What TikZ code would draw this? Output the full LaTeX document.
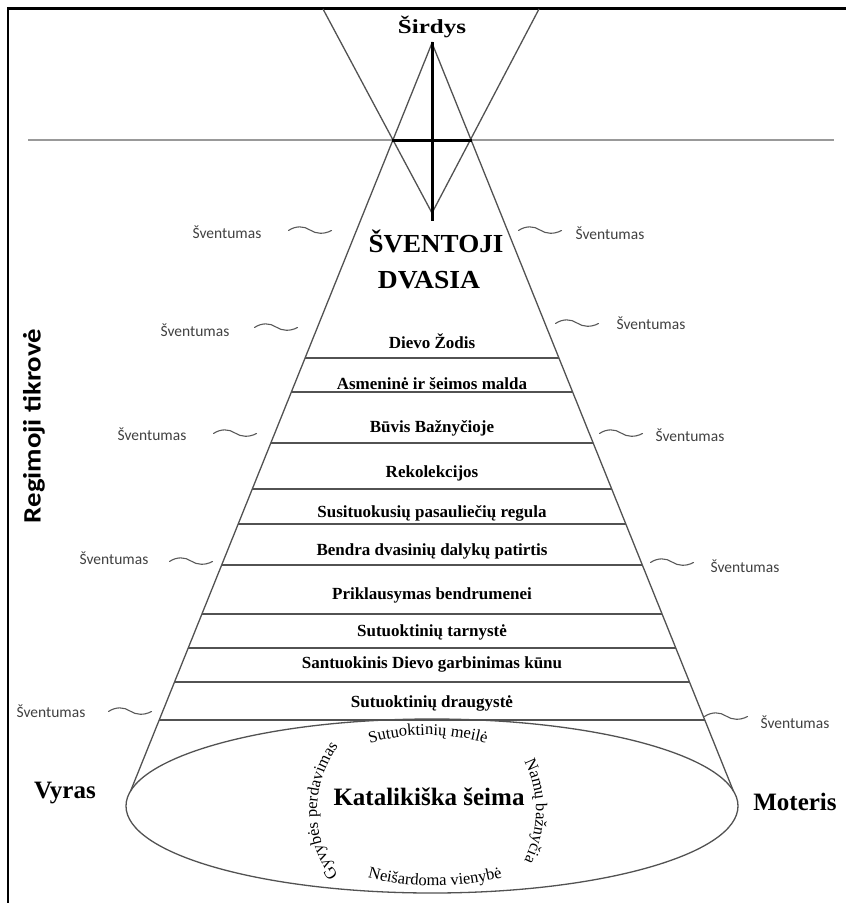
\documentclass[tikz,border=0pt]{standalone}
\usepackage{fontspec}
\setmainfont{Liberation Serif}
\newfontfamily\calfont{Carlito}
\usetikzlibrary{decorations.text}
\newcommand\ringfont{\fontsize{16.5}{19}\selectfont}
\begin{document}
\begin{tikzpicture}[x=1pt,y=1pt,
  frame/.style={line width=2.8pt,draw=black,line join=miter},
  thinline/.style={line width=1.3pt,draw=black!68},
  gline/.style={line width=2.6pt,draw=black!40},
  crossline/.style={line width=3pt,draw=black},
  item/.style={font=\fontsize{17}{20}\selectfont\bfseries,anchor=base,inner sep=0pt},
  bigtitle/.style={font=\fontsize{26}{30}\selectfont\bfseries,anchor=base,inner sep=0pt},
  person/.style={font=\fontsize{25}{30}\selectfont\bfseries,anchor=base,inner sep=0pt},
  holy/.style={font=\calfont\fontsize{15.5}{18}\selectfont,text=black!75,inner sep=0pt},
  squigline/.style={line width=1.1pt,draw=black!65,line cap=round},
  squig/.pic={\draw[squigline] (-21.5,-0.5) .. controls (-14,4.5) and (-6,4) .. (0,0) .. controls (6,-4) and (14,-4.5) .. (21.5,-0.5);},
  ring/.style={decorate,decoration={text along path,text align=center,text={|\ringfont|#1}}}
]
\useasboundingbox (0,0) rectangle (846,-903);
% frame
\draw[frame] (8,-903) -- (8,-8.7) -- (846,-8.7);
% grey horizon
\draw[gline] (28,-140) -- (834,-140);
% inverted V (upper)
\draw[thinline] (323,-9) -- (432,-213) -- (539,-9);
% cone
\draw[thinline] (130.6,-791) -- (432,-43) -- (733.4,-791);
% layer lines
\foreach \yy in {358,392,443,489,524,565,614,648,682,720}{
  \pgfmathsetmacro\dd{0.403*(\yy-43)}
  \draw[thinline] ({432-\dd},-\yy) -- ({432+\dd},-\yy);
}
% ellipse
\draw[thinline] (432,-806) ellipse[x radius=306, y radius=87];
% cross
\draw[crossline] (432,-42) -- (432,-221);
\draw[crossline] (392,-140) -- (472,-140);

% titles
\node[font=\fontsize{20}{24}\selectfont\bfseries,anchor=base,inner sep=0pt] (sirdys) at (432,-33) {\scalebox{1.25}[1]{Širdys}};
\node[bigtitle] (sv1) at (436,-252) {\scalebox{1.04}[1]{ŠVENTOJI}};
\node[bigtitle] (sv2) at (429,-288) {\scalebox{1.06}[1]{DVASIA}};

% layers
\node[item] (l1) at (432,-348) {Dievo Žodis};
\node[item] (l2) at (432,-389) {Asmeninė ir šeimos malda};
\node[item] (l3) at (432,-432) {Būvis Bažnyčioje};
\node[item] (l4) at (432,-477) {Rekolekcijos};
\node[item] (l5) at (432,-517) {Susituokusių pasauliečių regula};
\node[item] (l6) at (432,-555) {Bendra dvasinių dalykų patirtis};
\node[item] (l7) at (432,-599) {Priklausymas bendrumenei};
\node[item] (l8) at (432,-636) {Sutuoktinių tarnystė};
\node[item] (l9) at (432,-668) {Santuokinis Dievo garbinimas kūnu};
\node[item] (l10) at (432,-707) {Sutuoktinių draugystė};

% family
\node[font=\fontsize{25}{30}\selectfont\bfseries,anchor=base,inner sep=0pt] (fam) at (429,-805) {Katalikiška šeima};
\path[ring={Sutuoktinių meilė}] ([shift={(115:214)}]428,-949) arc[start angle=115,end angle=65,radius=214];
\path[ring={Neišardoma vienybė}] ([shift={(245:269)}]435,-617) arc[start angle=245,end angle=295,radius=269];
\path[ring={Gyvybės perdavimas}] ([shift={(225:109)}]426,-811) arc[start angle=225,end angle=135,radius=109];
\path[ring={Namų bažnyčia}] ([shift={(45:110)}]426,-811) arc[start angle=45,end angle=-45,radius=110];

\node[person] (vyras) at (65,-798) {Vyras};
\node[person] (moteris) at (795,-810) {Moteris};

% side label
\node[font=\calfont\bfseries\fontsize{25}{28}\selectfont,rotate=90,inner sep=0pt] (regim) at (34,-426) {\scalebox{1.15}[1]{Regimoji tikrovė}};

% holiness labels left
\node[holy] (hl1) at (227,-232) {Šventumas};
\node[holy] (hl2) at (195,-330) {Šventumas};
\node[holy] (hl3) at (152,-434) {Šventumas};
\node[holy] (hl4) at (114,-558) {Šventumas};
\node[holy] (hl5) at (51,-711) {Šventumas};
\pic at (310,-230) {squig};
\pic at (276,-327) {squig};
\pic at (235,-433) {squig};
\pic at (191,-561) {squig};
\pic at (130,-711) {squig};
% holiness labels right
\node[holy] (hr1) at (610,-233) {Šventumas};
\node[holy] (hr2) at (651,-323) {Šventumas};
\node[holy] (hr3) at (690,-435) {Šventumas};
\node[holy] (hr4) at (745,-566) {Šventumas};
\node[holy] (hr5) at (795,-722) {Šventumas};
\pic at (540,-230) {squig};
\pic at (577,-323) {squig};
\pic at (621,-433) {squig};
\pic at (672,-562) {squig};
\pic at (726,-716) {squig};
\end{tikzpicture}
\end{document}
